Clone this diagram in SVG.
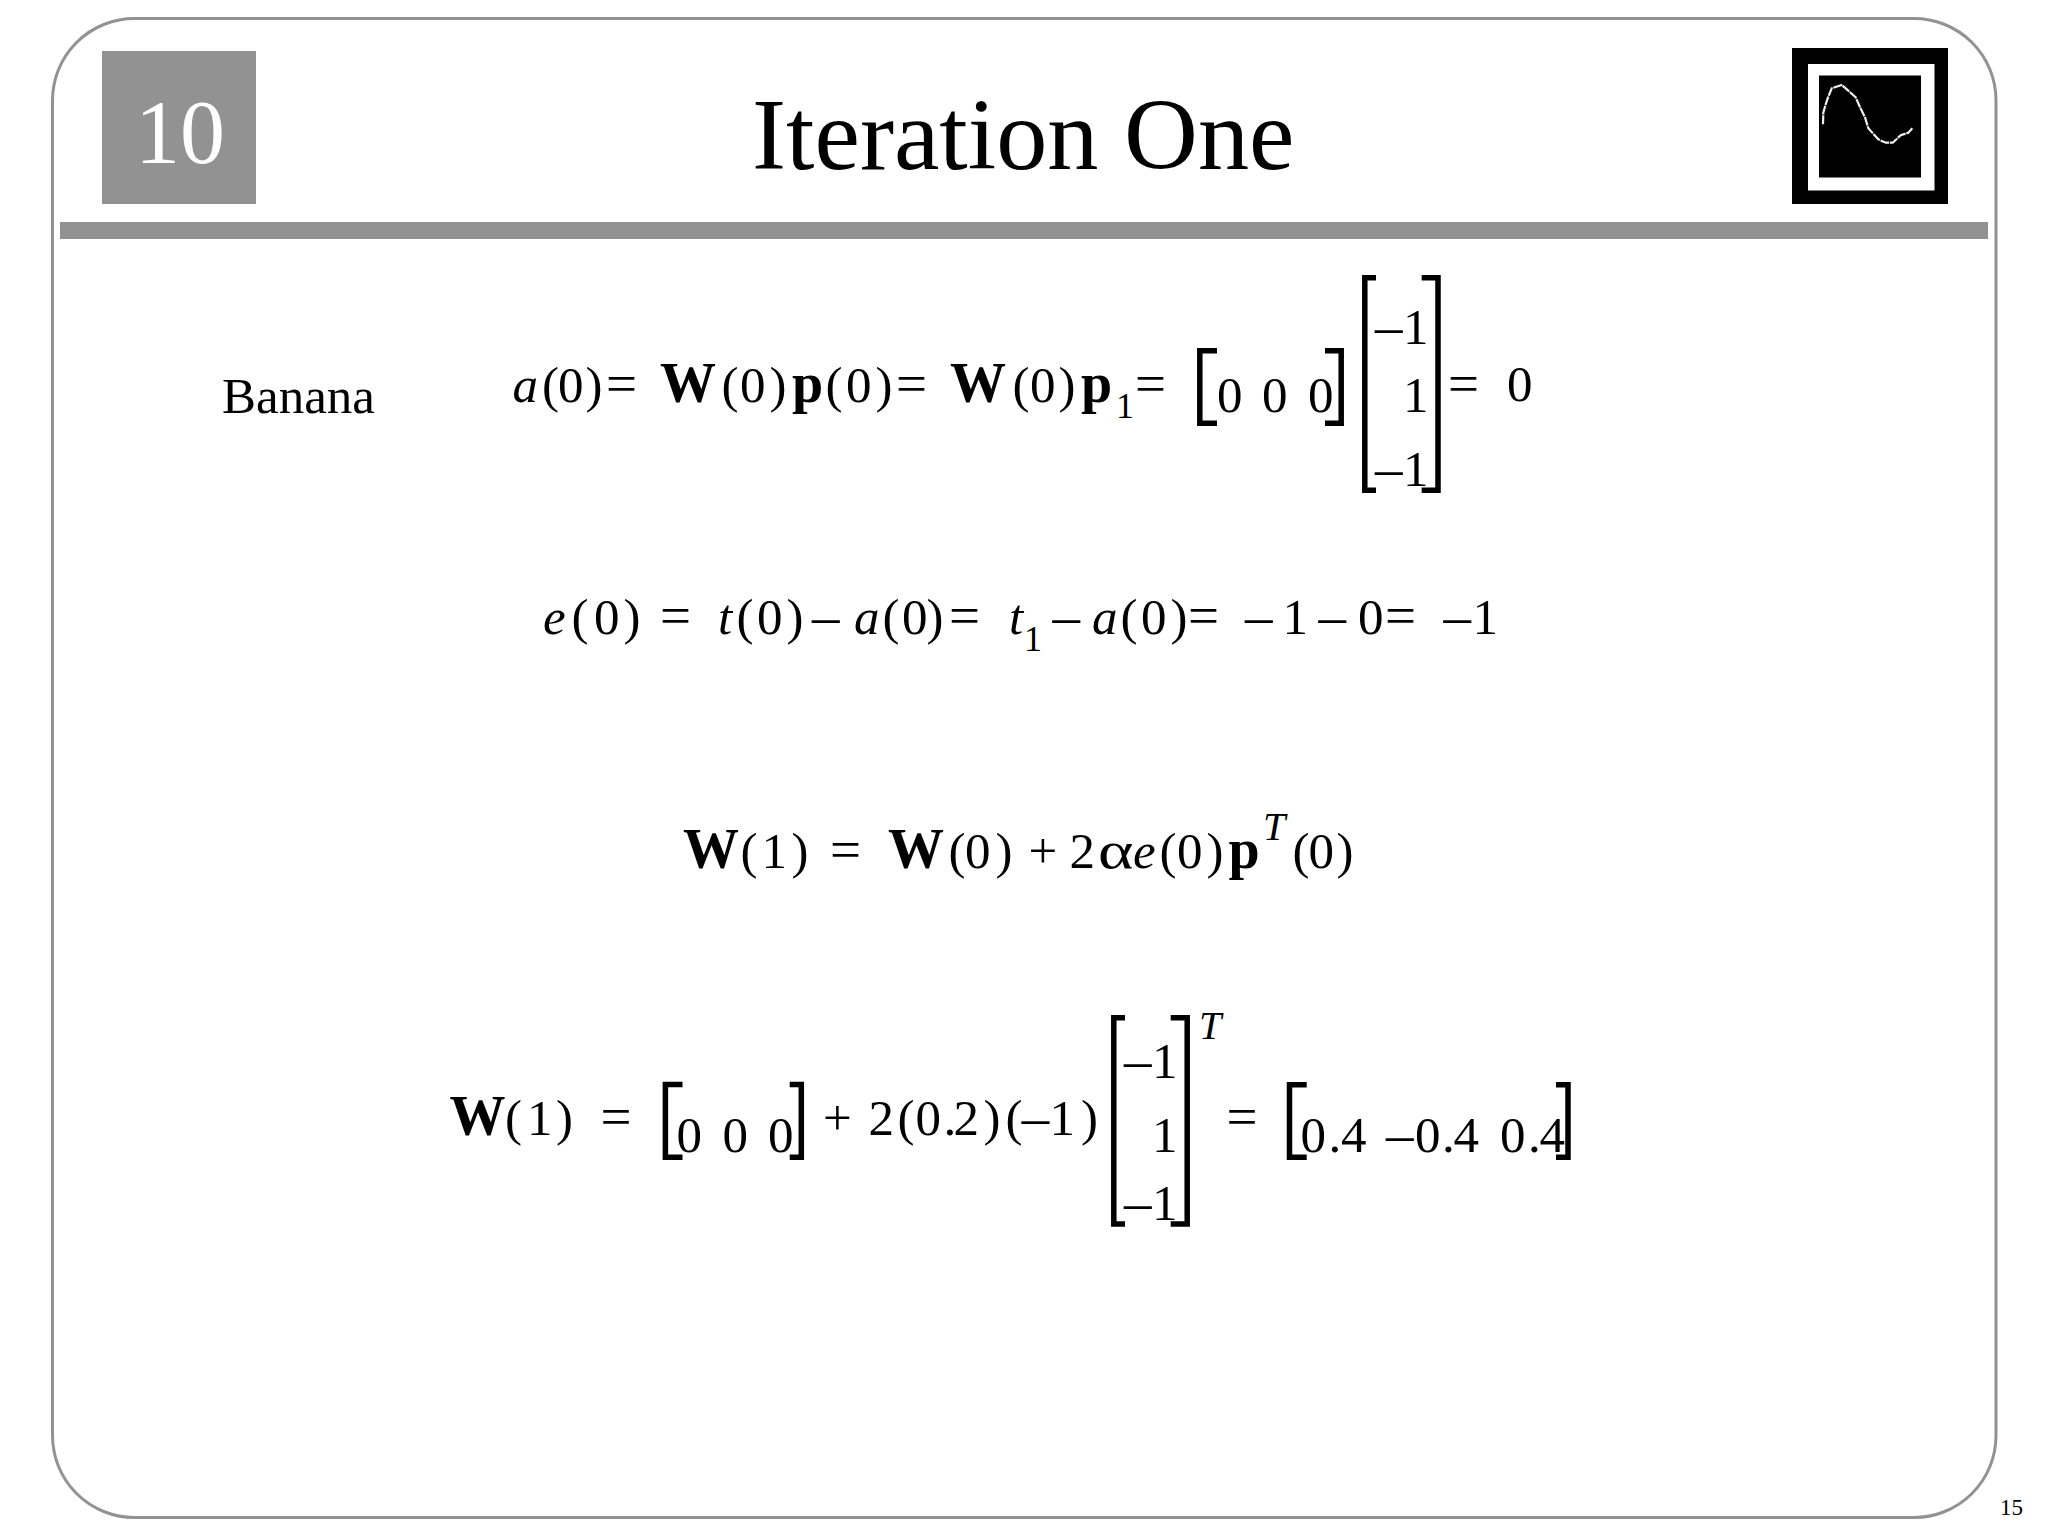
<svg xmlns="http://www.w3.org/2000/svg" width="2048" height="1536" viewBox="0 0 2048 1536">
<style>
text{font-family:"Liberation Serif","Times New Roman",serif;fill:#000;font-size:51px;white-space:pre}
.i{font-style:italic}
.b{font-weight:bold;font-size:56px}
.W{font-weight:bold;font-size:56px}
.eq{font-size:55px}
.d{font-size:55px}
.s{font-size:36px}
.T{font-style:italic;font-size:40px}
.br{fill:none;stroke:#000;stroke-width:5.500}
</style>
<rect width="2048" height="1536" fill="#fff"/>
<g id="frame">
<rect x="52.5" y="18.5" width="1943.500" height="1499" rx="82" ry="82" fill="none" stroke="#929292" stroke-width="3"/>
<rect x="60" y="222" width="1928" height="17" fill="#929292"/>
</g>
<g id="chapter">
<rect x="102" y="51" width="154" height="153" fill="#929292"/>
<text x="135" y="163" style="font-size:90px;fill:#fff">10</text>
</g>
<text id="title" x="752" y="169" style="font-size:102.300px">Iteration One</text>
<g id="icon">
<rect x="1792" y="48" width="156" height="156" fill="#000"/>
<rect x="1808" y="64" width="126.500" height="126.500" fill="#fff"/>
<rect x="1819" y="75.500" width="102" height="102" fill="#000"/>
<polyline points="1823,124.300 1823.300,112.700 1826,103.300 1828.300,96.700 1831.700,88.300 1841.700,85 1848.300,90.700 1855.700,97.300 1860,107.300 1865,117.300 1868.300,128.300 1878.300,139.300 1885.700,142.700 1892.700,142.700 1900.700,135.300 1908.300,132.700 1912.300,128.300" fill="none" stroke="#f0f0f0" stroke-width="2.200" stroke-dasharray="9 0.800"/>
</g>
<text id="banana" x="222" y="413">Banana</text>
<g id="eq1">
<text><tspan class="i" x="512.500" y="402">a</tspan><tspan x="542" y="402">(</tspan><tspan x="558" y="402">0</tspan><tspan x="585.500" y="402">)</tspan><tspan class="eq" x="606" y="402">=</tspan><tspan class="W" x="660" y="402">W</tspan><tspan x="721.500" y="402">(</tspan><tspan x="740" y="402">0</tspan><tspan x="769.500" y="402">)</tspan><tspan class="b" x="792" y="402">p</tspan><tspan x="825.500" y="402">(</tspan><tspan x="846" y="402">0</tspan><tspan x="875.500" y="402">)</tspan><tspan class="eq" x="896" y="402">=</tspan><tspan class="W" x="950" y="402">W</tspan><tspan x="1012.500" y="402">(</tspan><tspan x="1030" y="402">0</tspan><tspan x="1058.500" y="402">)</tspan><tspan class="b" x="1081" y="402">p</tspan><tspan class="s" x="1116" y="418">1</tspan><tspan class="eq" x="1135" y="402">=</tspan></text>
<path class="br" d="M1217,350.800H1199.800V423.200H1217"/>
<text><tspan x="1217" y="412">0</tspan><tspan x="1262" y="412">0</tspan><tspan x="1308" y="412">0</tspan></text>
<path class="br" d="M1325,350.800H1341.200V423.200H1325"/>
<path class="br" d="M1376,277.800H1364.800V490.200H1376"/>
<text><tspan class="d" x="1375" y="344">–</tspan><tspan x="1403" y="344">1</tspan><tspan x="1403" y="412">1</tspan><tspan class="d" x="1375" y="486">–</tspan><tspan x="1403" y="486">1</tspan></text>
<path class="br" d="M1421.700,277.800H1438V490.200H1421.700"/>
<text><tspan class="eq" x="1448" y="402">=</tspan><tspan x="1507" y="401">0</tspan></text>
</g>
<g id="eq2">
<text><tspan class="i" x="543" y="634">e</tspan><tspan x="571.500" y="634">(</tspan><tspan x="594" y="634">0</tspan><tspan x="623.500" y="634">)</tspan><tspan class="eq" x="660" y="634">=</tspan><tspan class="i" x="718" y="634">t</tspan><tspan x="736.500" y="634">(</tspan><tspan x="757" y="634">0</tspan><tspan x="786.500" y="634">)</tspan><tspan class="d" x="812" y="634">–</tspan><tspan class="i" x="854" y="634">a</tspan><tspan x="882.500" y="634">(</tspan><tspan x="902" y="634">0</tspan><tspan x="926.500" y="634">)</tspan><tspan class="eq" x="949" y="634">=</tspan><tspan class="i" x="1009" y="634">t</tspan><tspan class="s" x="1024" y="651">1</tspan><tspan class="d" x="1052.500" y="634">–</tspan><tspan class="i" x="1092" y="634">a</tspan><tspan x="1120.500" y="634">(</tspan><tspan x="1141" y="634">0</tspan><tspan x="1170.500" y="634">)</tspan><tspan class="eq" x="1188" y="634">=</tspan><tspan class="d" x="1245" y="634">–</tspan><tspan x="1282.500" y="634">1</tspan><tspan class="d" x="1318.500" y="634">–</tspan><tspan x="1358" y="634">0</tspan><tspan class="eq" x="1385" y="634">=</tspan><tspan class="d" x="1443.500" y="634">–</tspan><tspan x="1472.500" y="634">1</tspan></text>
</g>
<g id="eq3">
<text><tspan class="W" x="683" y="868">W</tspan><tspan x="740.500" y="868">(</tspan><tspan x="761.500" y="868">1</tspan><tspan x="791.500" y="868">)</tspan><tspan class="eq" x="830" y="868">=</tspan><tspan class="W" x="888" y="868">W</tspan><tspan x="948.500" y="868">(</tspan><tspan x="965" y="868">0</tspan><tspan x="995.500" y="868">)</tspan><tspan x="1028.500" y="868">+</tspan><tspan x="1069.500" y="868">2</tspan></text>
<text transform="translate(1098,868) scale(1.3,1)" style="font-size:52px">α</text>
<text><tspan class="i" x="1133" y="868">e</tspan><tspan x="1159.500" y="868">(</tspan><tspan x="1177" y="868">0</tspan><tspan x="1206.500" y="868">)</tspan><tspan class="b" x="1228.500" y="868">p</tspan><tspan class="T" x="1263" y="840">T</tspan><tspan x="1292.500" y="868">(</tspan><tspan x="1308.500" y="868">0</tspan><tspan x="1336.500" y="868">)</tspan></text>
</g>
<g id="eq4">
<text><tspan class="W" x="449.500" y="1135">W</tspan><tspan x="505" y="1135">(</tspan><tspan x="527" y="1135">1</tspan><tspan x="556" y="1135">)</tspan><tspan class="eq" x="600.500" y="1135">=</tspan></text>
<path class="br" d="M682.500,1084.500H665.400V1157.200H682.500"/>
<text><tspan x="676.500" y="1152">0</tspan><tspan x="722.500" y="1152">0</tspan><tspan x="768" y="1152">0</tspan></text>
<path class="br" d="M789.700,1084.500H801.300V1157.200H789.700"/>
<text><tspan x="823" y="1135">+</tspan><tspan x="868.500" y="1135">2</tspan><tspan x="897.500" y="1135">(</tspan><tspan x="915.500" y="1135">0</tspan><tspan x="943.500" y="1135">.</tspan><tspan x="953.500" y="1135">2</tspan><tspan x="983.500" y="1135">)</tspan><tspan x="1005.500" y="1135">(</tspan><tspan class="d" x="1021.700" y="1135">–</tspan><tspan x="1049.500" y="1135">1</tspan><tspan x="1081" y="1135">)</tspan></text>
<path class="br" d="M1125,1017.800H1113.800V1224H1125"/>
<text><tspan class="d" x="1124" y="1078">–</tspan><tspan x="1152" y="1078">1</tspan><tspan x="1152" y="1152">1</tspan><tspan class="d" x="1124" y="1220">–</tspan><tspan x="1152" y="1220">1</tspan></text>
<path class="br" d="M1170.700,1017.800H1187.200V1224H1170.700"/>
<text><tspan class="T" x="1199" y="1039">T</tspan><tspan class="eq" x="1226.500" y="1135">=</tspan></text>
<path class="br" d="M1306.700,1084.700H1289.500V1157.200H1306.700"/>
<text><tspan x="1300.500" y="1152">0</tspan><tspan x="1328.500" y="1152">.</tspan><tspan x="1341" y="1152">4</tspan><tspan class="d" x="1386" y="1152">–</tspan><tspan x="1415" y="1152">0</tspan><tspan x="1442" y="1152">.</tspan><tspan x="1453.500" y="1152">4</tspan><tspan x="1500" y="1152">0</tspan><tspan x="1528" y="1152">.</tspan><tspan x="1539.500" y="1152">4</tspan></text>
<path class="br" d="M1556,1084.700H1568V1157.200H1556"/>
</g>
<text id="page" x="2000" y="1515" style="font-size:23px">15</text>
</svg>
